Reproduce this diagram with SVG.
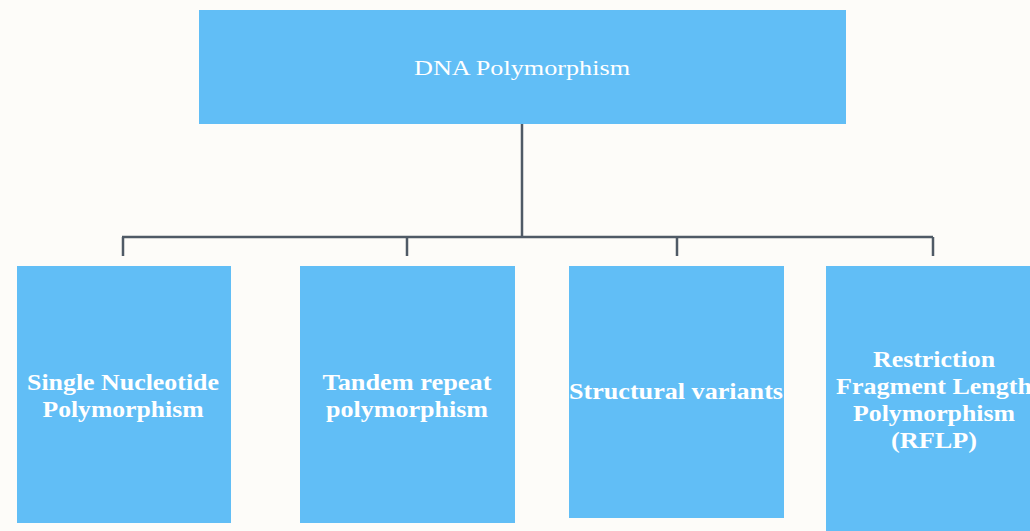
<svg xmlns="http://www.w3.org/2000/svg" width="1030" height="531" viewBox="0 0 1030 531">
<style>
.box{fill:#61bef6;}
.t{font-family:"Liberation Serif","Times New Roman",serif;fill:#ffffff;text-anchor:middle;}
.b{font-weight:bold;font-size:23px;}
.conn{stroke:#4f5a66;stroke-width:2.5;fill:none;}
</style>
<rect x="0" y="0" width="1030" height="531" fill="#fdfcf9"/>
<g id="connectors">
<path class="conn" d="M522,124 V237"/>
<path class="conn" d="M122,237 H933"/>
<path class="conn" d="M123,237 V256 M407,237 V256 M677,237 V256 M933,237 V256"/>
</g>
<g id="root">
<rect class="box" x="199" y="10" width="647" height="114"/>
<text class="t" x="522" y="75" font-size="22" textLength="216" lengthAdjust="spacingAndGlyphs">DNA Polymorphism</text>
</g>
<g id="snp">
<rect class="box" x="17" y="266" width="214" height="257"/>
<text class="t b" x="123" y="390" textLength="192" lengthAdjust="spacingAndGlyphs">Single Nucleotide</text>
<text class="t b" x="123" y="417" textLength="161" lengthAdjust="spacingAndGlyphs">Polymorphism</text>
</g>
<g id="tandem">
<rect class="box" x="300" y="266" width="215" height="257"/>
<text class="t b" x="407" y="390" textLength="169" lengthAdjust="spacingAndGlyphs">Tandem repeat</text>
<text class="t b" x="407" y="417" textLength="162" lengthAdjust="spacingAndGlyphs">polymorphism</text>
</g>
<g id="structural">
<rect class="box" x="569" y="266" width="215" height="252"/>
<text class="t b" x="676" y="399" textLength="214" lengthAdjust="spacingAndGlyphs">Structural variants</text>
</g>
<g id="rflp">
<rect class="box" x="826" y="266" width="215" height="265"/>
<text class="t b" x="934" y="367" textLength="122" lengthAdjust="spacingAndGlyphs">Restriction</text>
<text class="t b" x="934" y="394" textLength="196" lengthAdjust="spacingAndGlyphs">Fragment Length</text>
<text class="t b" x="934" y="421" textLength="162" lengthAdjust="spacingAndGlyphs">Polymorphism</text>
<text class="t b" x="934" y="448" textLength="86" lengthAdjust="spacingAndGlyphs">(RFLP)</text>
</g>
</svg>
